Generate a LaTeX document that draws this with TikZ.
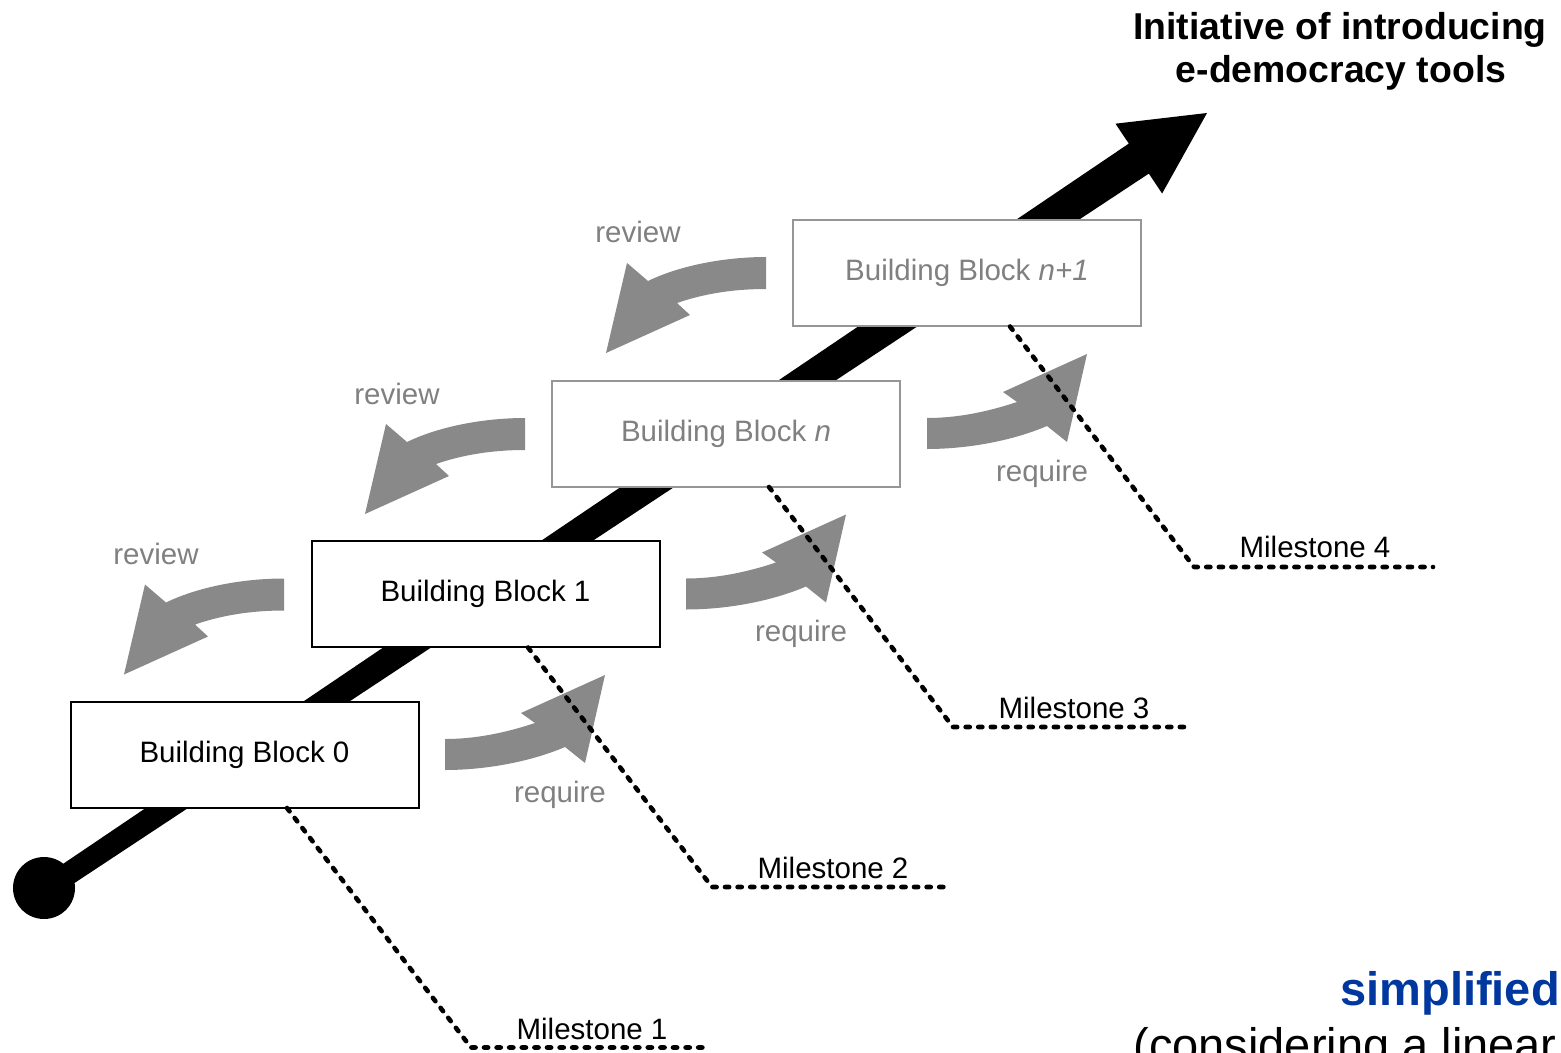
\documentclass[tikz,border=0pt]{standalone}
\usepackage{fontspec}
\setmainfont{Liberation Sans}
\definecolor{boxgray}{RGB}{150,150,150}
\definecolor{textgray}{RGB}{128,128,128}
\definecolor{arrowgray}{RGB}{137,137,137}
\definecolor{titleblue}{RGB}{0,56,160}
\begin{document}
\begin{tikzpicture}[x=0.5pt,y=-0.5pt,
  bblock/.style={draw=black, line width=1pt, fill=white, minimum width=174pt,
    minimum height=53pt, inner sep=0pt, font=\fontsize{14.75}{17}\selectfont},
  bblockgray/.style={bblock, draw=boxgray, text=textgray},
  lbl/.style={font=\fontsize{14.75}{17}\selectfont, inner sep=0pt, anchor=base},
  graylbl/.style={lbl, text=textgray},
  milestone/.style={line width=2.3pt, dash pattern=on 2.1pt off 4.2pt, line cap=round, line join=round},
  reqarrow/.pic={\fill[arrowgray] (0,0) -- (0,31) .. controls (40,31) and (85,23) .. (120,8)
      -- (140,24) -- (160,-64) -- (76,-26) -- (90,-16) .. controls (60,-6) and (30,0) .. (0,0) -- cycle;},
  revarrow/.pic={\fill[arrowgray] (0,0) .. controls (-40,0) and (-85,8) .. (-118,24)
      -- (-139,6) -- (-160,96) -- (-76,58) -- (-89,46) .. controls (-60,36) and (-30,32) .. (0,32) -- cycle;}
]
\useasboundingbox (0,0) rectangle (1561,1053);

% main black arrow
\coordinate (start) at (44,888);
\coordinate (tip) at (1207,113);
\fill[black] (37.9,880.9) -- (1128.8,143.6) -- (1115.5,123.7) -- (tip) -- (1162.1,193.5)
  -- (1148.8,173.6) -- (50.1,899.1) -- cycle;
\fill[black] (start) circle [radius=15.5pt];

% building blocks
\node[bblock] (bb0) at (244.5,754.5) {Building Block 0};
\node[bblock] (bb1) at (485.5,594) {Building Block 1};
\node[bblockgray] (bbn) at (726,433.5) {Building Block \textit{n}};
\node[bblockgray] (bbn1) at (967,273) {Building Block \textit{n+1}};

% require / review arrows
\pic at (445,739) {reqarrow};
\pic at (686,578.5) {reqarrow};
\pic at (927,418) {reqarrow};
\pic at (284,578.5) {revarrow};
\pic at (525,418) {revarrow};
\pic at (766,257) {revarrow};

\node[graylbl] (rq0) at (560,802) {require};
\node[graylbl] (rq1) at (801,641.5) {require};
\node[graylbl] (rq2) at (1042,481) {require};
\node[graylbl] (rv1) at (156,564) {review};
\node[graylbl] (rv2) at (397,404) {review};
\node[graylbl] (rv3) at (638,243) {review};

% milestones
\coordinate (m1a) at (287,808);    \coordinate (m1b) at (471,1047.5);  \coordinate (m1c) at (710,1047.5);
\coordinate (m2a) at (528,647.5);  \coordinate (m2b) at (712,887); \coordinate (m2c) at (951,887);
\coordinate (m3a) at (769,487);    \coordinate (m3b) at (953,727);   \coordinate (m3c) at (1192,727);
\coordinate (m4a) at (1010,326.5); \coordinate (m4b) at (1194,567);\coordinate (m4c) at (1433,567);
\draw[milestone] (m1a) -- (m1b) -- (m1c);
\draw[milestone] (m2a) -- (m2b) -- (m2c);
\draw[milestone] (m3a) -- (m3b) -- (m3c);
\draw[milestone] (m4a) -- (m4b) -- (m4c);
\node[lbl] (ms1) at (592,1039) {Milestone 1};
\node[lbl] (ms2) at (833,878.5) {Milestone 2};
\node[lbl] (ms3) at (1074,718) {Milestone 3};
\node[lbl] (ms4) at (1315,557.5) {Milestone 4};

% titles
\node[anchor=base, inner sep=0pt, font=\bfseries\fontsize{18.7}{21.5}\selectfont] (title1) at (1340,40) {Initiative of introducing};
\node[anchor=base, inner sep=0pt, font=\bfseries\fontsize{18.7}{21.5}\selectfont] (title2) at (1341,83) {e-democracy tools};
\node[anchor=base west, inner sep=0pt, text=titleblue, font=\bfseries\fontsize{23.5}{27}\selectfont] (simp) at (1340,1005) {simplified};
\node[anchor=base west, inner sep=0pt, font=\fontsize{23.5}{27}\selectfont] (cons) at (1133,1061) {(considering a linear};
\end{tikzpicture}
\end{document}
